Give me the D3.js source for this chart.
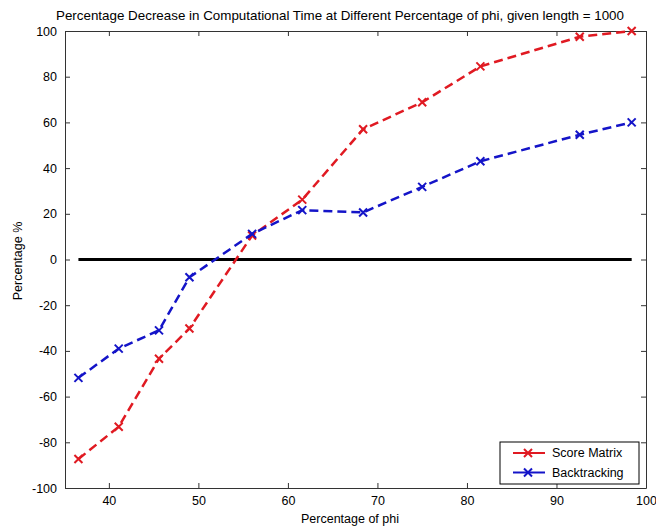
<!DOCTYPE html>
<html lang="en">
  <head>
    <meta charset="UTF-8" />
    <title>Percentage Decrease in Computational Time</title>
    <script src="https://d3js.org/d3.v7.min.js"></script>
    <style>
      * {
        margin: 0;
        padding: 0;
      }
      body {
        background: #ffffff;
        font-family: "Liberation Sans", Arial, sans-serif;
      }
      .axis text {
        font-size: 12.5px;
        fill: #000;
        font-family: "Liberation Sans", Arial, sans-serif;
      }
      .axis path,
      .axis line {
        stroke: #333;
      }
      .label {
        font-size: 12.5px;
        fill: #000;
      }
    </style>
  </head>
  <body>
    <div id="chart"></div>
    <script>
      const phi = [36.6, 41.1, 45.6, 49.0, 56.0, 61.6, 68.4, 75.0, 81.5, 92.6, 98.4];
      const scoreMatrix = [-87.3, -73.2, -43.4, -30.2, 10.5, 26.2, 57.0, 68.8, 84.5, 97.5, 100];
      const backtracking = [-51.8, -39.0, -31.0, -7.8, 11.2, 21.6, 20.6, 31.8, 43.0, 54.6, 60];
      const xTicks = [40, 50, 60, 70, 80, 90, 100];
      const yTicks = [-100, -80, -60, -40, -20, 0, 20, 40, 60, 80, 100];

      const W = 656,
        H = 529;
      const margin = { top: 31, right: 10, bottom: 41, left: 65 };
      const width = W - margin.left - margin.right,
        height = H - margin.top - margin.bottom;

      const svg = d3
        .select("#chart")
        .append("svg")
        .attr("width", W)
        .attr("height", H);

      const g = svg
        .append("g")
        .attr("transform", `translate(${margin.left}, ${margin.top})`);

      const x = d3.scaleLinear().domain([35.1, 100]).range([0, width]);
      const y = d3.scaleLinear().domain([-100, 100]).range([height, 0]);

      // plain hyphen minus, like the original
      const fmt = (d) => String(d);

      // axes, ticks point inward like matlab
      g.append("g")
        .attr("class", "axis")
        .attr("transform", `translate(0, ${height})`)
        .call(d3.axisBottom(x).tickValues(xTicks).tickFormat(fmt).tickSizeInner(-5).tickSizeOuter(0).tickPadding(8));
      g.append("g")
        .attr("class", "axis")
        .call(d3.axisLeft(y).tickValues(yTicks).tickFormat(fmt).tickSizeInner(-5).tickSizeOuter(0).tickPadding(8));
      g.append("g")
        .attr("class", "axis")
        .call(d3.axisTop(x).tickValues(xTicks).tickSizeInner(-5).tickSizeOuter(0).tickFormat(""));
      g.append("g")
        .attr("class", "axis")
        .attr("transform", `translate(${width}, 0)`)
        .call(d3.axisRight(y).tickValues(yTicks).tickSizeInner(-5).tickSizeOuter(0).tickFormat(""));

      // zero line
      g.append("line")
        .attr("x1", x(phi[0]))
        .attr("x2", x(phi[phi.length - 1]))
        .attr("y1", y(0))
        .attr("y2", y(0))
        .attr("stroke", "#000")
        .attr("stroke-width", 3);

      const series = [
        { name: "Score Matrix", values: scoreMatrix, color: "#e01a22" },
        { name: "Backtracking", values: backtracking, color: "#1414c8" },
      ];

      const line = d3
        .line()
        .x((d) => x(d[0]))
        .y((d) => y(d[1]));

      function cross(sel, color) {
        sel
          .append("path")
          .attr("d", "M-4,-4L4,4M-4,4L4,-4")
          .attr("stroke", color)
          .attr("stroke-width", 2)
          .attr("fill", "none");
      }

      series.forEach((s) => {
        const pts = phi.map((p, i) => [p, s.values[i]]);
        g.append("path")
          .datum(pts)
          .attr("d", line)
          .attr("fill", "none")
          .attr("stroke", s.color)
          .attr("stroke-width", 2.5)
          .attr("stroke-dasharray", "9,5");
        g.selectAll(null)
          .data(pts)
          .enter()
          .append("g")
          .attr("transform", (d) => `translate(${x(d[0])}, ${y(d[1])})`)
          .each(function () {
            cross(d3.select(this), s.color);
          });
      });

      // legend
      const lg = svg.append("g").attr("transform", "translate(500, 442)");
      lg.append("rect")
        .attr("width", 139)
        .attr("height", 42)
        .attr("fill", "#fff")
        .attr("stroke", "#000")
        .attr("stroke-width", 1);
      series.forEach((s, i) => {
        const row = lg.append("g").attr("transform", `translate(0, ${11 + i * 19.5})`);
        row.append("line")
          .attr("x1", 13)
          .attr("x2", 45)
          .attr("stroke", s.color)
          .attr("stroke-width", 2);
        const m = row.append("g").attr("transform", "translate(28, 0)");
        cross(m, s.color);
        row.append("text")
          .attr("class", "label")
          .attr("x", 52)
          .attr("dy", "0.35em")
          .text(s.name);
      });

      // title and axis labels
      svg.append("text")
        .attr("class", "label")
        .attr("x", 340)
        .attr("y", 20)
        .attr("text-anchor", "middle")
        .attr("textLength", 568)
        .attr("lengthAdjust", "spacingAndGlyphs")
        .style("font-size", "13px")
        .text("Percentage Decrease in Computational Time at Different Percentage of phi, given length = 1000");

      svg.append("text")
        .attr("class", "label")
        .attr("x", 350)
        .attr("y", 523)
        .attr("text-anchor", "middle")
        .text("Percentage of phi");

      svg.append("text")
        .attr("class", "label")
        .attr("transform", "translate(22, 261) rotate(-90)")
        .attr("text-anchor", "middle")
        .text("Percentage %");
    </script>
  </body>
</html>
